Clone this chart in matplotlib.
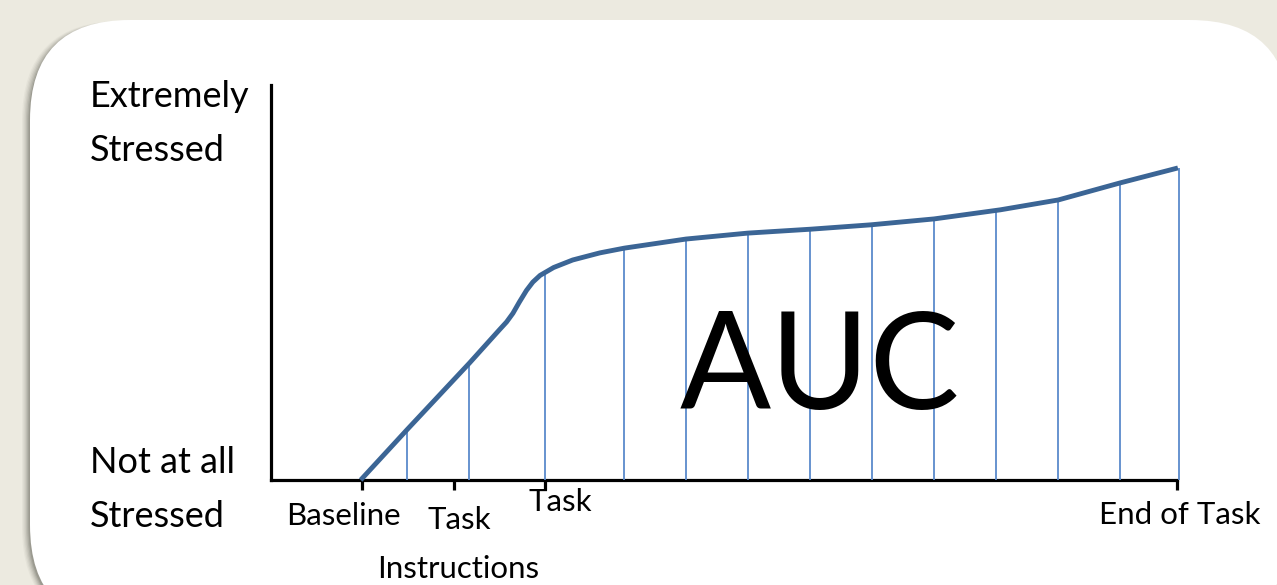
import matplotlib
matplotlib.use("Agg")
import matplotlib.pyplot as plt
from matplotlib.patches import FancyBboxPatch

# ---- data (time units on x, stress units on y) ----
curve_x = [0.99, 1.50, 2.19, 2.52, 2.60, 2.67, 2.74, 2.82, 2.89, 2.97, 3.12, 3.33, 3.63,
           3.90, 4.58, 5.26, 5.96, 6.62, 7.32, 8.05, 8.69, 9.37, 10.01]
curve_y = [0.00, 1.27, 2.96, 3.80, 4.00, 4.22, 4.50, 4.80, 5.01, 5.18, 5.38, 5.57, 5.75,
           5.87, 6.10, 6.25, 6.35, 6.46, 6.61, 6.84, 7.09, 7.52, 7.90]
auc_x = [1.50, 2.19, 3.02, 3.90, 4.58, 5.26, 5.95, 6.63, 7.32, 8.00, 8.69, 9.37, 10.02]
auc_top = [1.27, 2.96, 5.24, 5.87, 6.10, 6.25, 6.35, 6.46, 6.61, 6.81, 7.09, 7.52, 7.90]
tick_pos = [1.0, 2.02, 3.02, 10.0]
tick_labels = ["Baseline", "Task\nInstructions", "Task", "End of Task"]
y_labels = ["Extremely\nStressed", "Not at all\nStressed"]

W, H = 1277, 585
FONT = "Lato"
fig = plt.figure(figsize=(W / 100, H / 100), dpi=100)
fig.patch.set_facecolor("#ECEAE0")

# background / decoration axes in pixel units
bg = fig.add_axes([0, 0, 1, 1])
bg.set_xlim(0, W)
bg.set_ylim(0, H)
bg.axis("off")

def Y(py):
    return H - py

# shadow
for i, a in enumerate([0.05, 0.07, 0.09, 0.12, 0.16, 0.22]):
    off = 8 - i * 1.3
    bg.add_patch(FancyBboxPatch((30 - off, Y(625) - 2), 1260, 605 + 1 - i * 0.3,
                                boxstyle="round,pad=0,rounding_size=100",
                                fc="#5a5a50", ec="none", alpha=a, zorder=1))
bg.add_patch(FancyBboxPatch((30, Y(625)), 1260, 605,
                            boxstyle="round,pad=0,rounding_size=100",
                            fc="white", ec="none", zorder=2))

YL = 26
TL = 22.5
# y-axis descriptive labels
bg.text(90, Y(107), y_labels[0].split("\n")[0], fontsize=YL, family=FONT, va="baseline", ha="left", zorder=5)
bg.text(90, Y(161), y_labels[0].split("\n")[1], fontsize=YL, family=FONT, va="baseline", ha="left", zorder=5)
bg.text(90, Y(473), y_labels[1].split("\n")[0], fontsize=YL, family=FONT, va="baseline", ha="left", zorder=5)
bg.text(90, Y(527), y_labels[1].split("\n")[1], fontsize=YL, family=FONT, va="baseline", ha="left", zorder=5)

# x tick labels (placed individually like the reference)
bg.text(343, Y(525), tick_labels[0], fontsize=TL, family=FONT, ha="center", va="baseline", zorder=5)
bg.text(459, Y(529), tick_labels[1].split("\n")[0], fontsize=TL, family=FONT, ha="center", va="baseline", zorder=5)
bg.text(458, Y(578), tick_labels[1].split("\n")[1], fontsize=TL, family=FONT, ha="center", va="baseline", zorder=5)
bg.text(560, Y(511), tick_labels[2], fontsize=TL, family=FONT, ha="center", va="baseline", zorder=5)
bg.text(1180, Y(524), tick_labels[3], fontsize=TL, family=FONT, ha="center", va="baseline", zorder=5)

# chart axes
x0, x1 = 271, 1177
yb, yt = 480, 85
ax = fig.add_axes([x0 / W, (H - yb) / H, (x1 - x0) / W, (yb - yt) / H])
ax.set_zorder(3)
ax.patch.set_alpha(0)
ax.set_xlim(0, 10)
ax.set_ylim(0, 10)
for s in ["top", "right"]:
    ax.spines[s].set_visible(False)
for s in ["left", "bottom"]:
    ax.spines[s].set_linewidth(2.3)
    ax.spines[s].set_color("black")
    ax.spines[s].set_capstyle("projecting")
ax.set_yticks([])
ax.set_xticks(tick_pos)
ax.set_xticklabels([""] * len(tick_pos))
ax.tick_params(axis="x", direction="out", length=7, width=2.3, color="black")

ax.vlines(auc_x, 0, auc_top, color="#5B8ACB", linewidth=1.3, zorder=3, clip_on=False)
ax.plot(curve_x, curve_y, color="#3B6595", linewidth=3.5, solid_joinstyle="round",
        solid_capstyle="butt", zorder=4, clip_on=False)
ax.text(6.06, 1.8, "AUC", fontsize=97, family=FONT, ha="center", va="baseline", zorder=5)

fig.savefig("out.png", dpi=100, facecolor=fig.get_facecolor())
